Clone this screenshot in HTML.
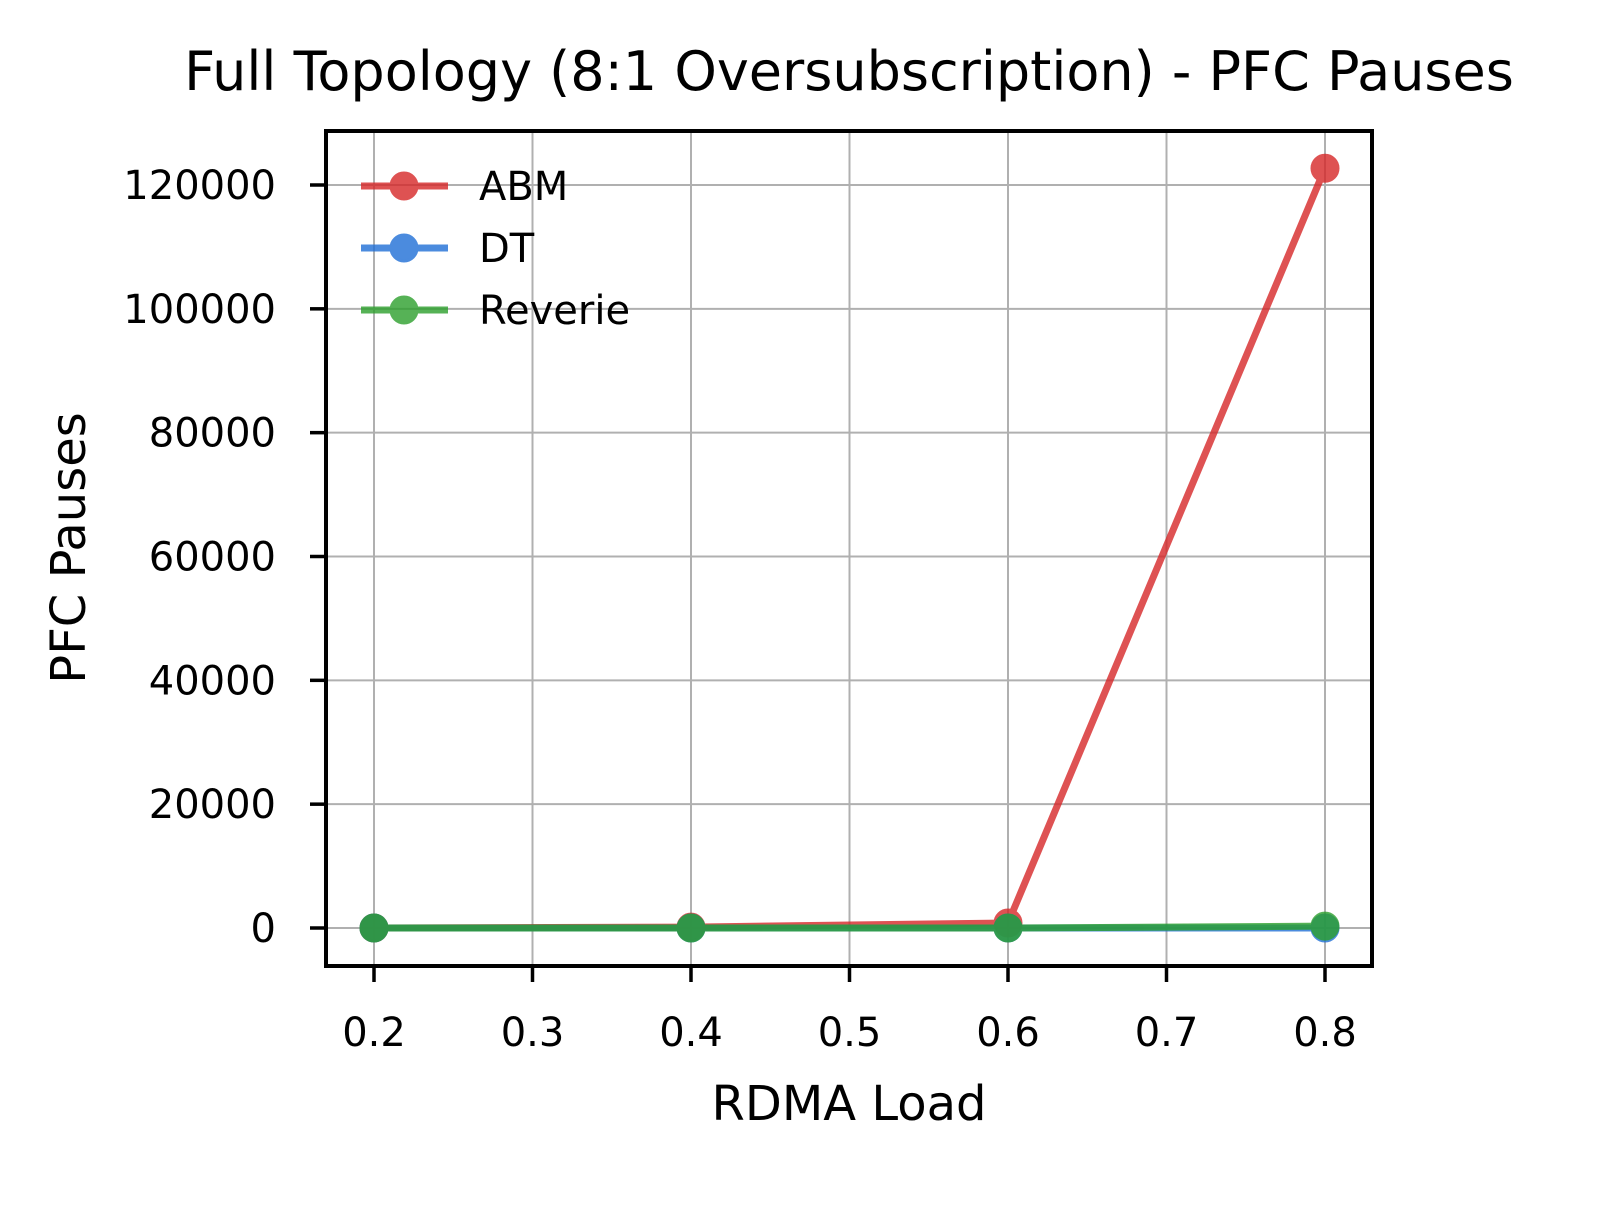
<!DOCTYPE html>
<html><head><meta charset="utf-8"><style>
html,body{margin:0;padding:0;background:#fff;}
svg text{font-family:"DejaVu Sans","Liberation Sans",sans-serif;fill:#000;}
</style></head><body>
<svg id="chart" width="1600" height="1202" xmlns="http://www.w3.org/2000/svg">
<rect width="1600" height="1202" fill="#fff"/>
<g id="grid"></g>
<g id="series"></g>
<rect x="326" y="131" width="1046" height="835" fill="none" stroke="#000" stroke-width="4"/>
<g id="ticks"></g>
<text x="849" y="90" font-size="54" text-anchor="middle">Full Topology (8:1 Oversubscription) - PFC Pauses</text>
<text x="849" y="1120" font-size="48" text-anchor="middle">RDMA Load</text>
<text x="0" y="0" font-size="48" text-anchor="middle" transform="translate(85,548) rotate(-90)">PFC Pauses</text>
<g id="legend"></g>
</svg>
<script>
const xCategories=[0.2,0.4,0.6,0.8];
const abmValues=[0,150,800,122700];
const dtValues=[0,0,0,0];
const reverieValues=[0,0,0,300];
const xTicks=[0.2,0.3,0.4,0.5,0.6,0.7,0.8];
const yTicks=[0,20000,40000,60000,80000,100000,120000];
const seriesNames=["ABM","DT","Reverie"];

const NS="http://www.w3.org/2000/svg";
function xs(v){return 374+(v-0.2)/0.6*(1325-374);}
function ys(v){return 928-v/120000*(928-185);}
function mk(tag,attrs,parent){const e=document.createElementNS(NS,tag);for(const k in attrs)e.setAttribute(k,attrs[k]);parent.appendChild(e);return e;}
const grid=document.getElementById('grid'),ticks=document.getElementById('ticks'),ser=document.getElementById('series'),leg=document.getElementById('legend');
xTicks.forEach(t=>{const x=xs(t);
 const g=mk('line',{x1:x,x2:x,y1:131,y2:966,stroke:'#b0b0b0','stroke-width':2},grid);
 
 
 const tk=mk('line',{x1:x,x2:x,y1:966,y2:982,stroke:'#000','stroke-width':3.5},ticks);
 
 
 const tx=mk('text',{x:x,y:1046,'font-size':40,'text-anchor':'middle'},ticks);tx.textContent=t.toFixed(1);
 
 
});
yTicks.forEach(t=>{const y=ys(t);
 const g=mk('line',{x1:326,x2:1372,y1:y,y2:y,stroke:'#b0b0b0','stroke-width':2},grid);
 
 
 const tk=mk('line',{x1:310,x2:326,y1:y,y2:y,stroke:'#000','stroke-width':3.5},ticks);
 
 
 const tx=mk('text',{x:276,y:y+14,'font-size':40,'text-anchor':'end'},ticks);tx.textContent=String(t);
 
 
});
const colors=['#d62728','#1f6fd6','#2ca02c'];
const data=[abmValues,dtValues,reverieValues];
data.forEach((vals,i)=>{
 const g=mk('g',{opacity:0.8},ser);
 
 
 const pts=vals.map((v,j)=>xs(xCategories[j])+','+ys(v)).join(' ');
 const pl=mk('polyline',{points:pts,fill:'none',stroke:colors[i],'stroke-width':7,'stroke-linejoin':'round'},g);
 
 
 vals.forEach((v,j)=>{const c=mk('circle',{cx:xs(xCategories[j]),cy:ys(v),r:13,fill:colors[i],stroke:colors[i],'stroke-width':3},g);
  
  });
 const ly=186+i*62;
 const lg=mk('g',{},leg);
 
 
 const gg=mk('g',{opacity:0.8},lg);
 mk('line',{x1:361,x2:448,y1:ly,y2:ly,stroke:colors[i],'stroke-width':7},gg);
 mk('circle',{cx:404,cy:ly,r:13,fill:colors[i],stroke:colors[i],'stroke-width':3},gg);
 const tx=mk('text',{x:479,y:ly+14,'font-size':40},lg);tx.textContent=seriesNames[i];
});
</script>
</body></html>
